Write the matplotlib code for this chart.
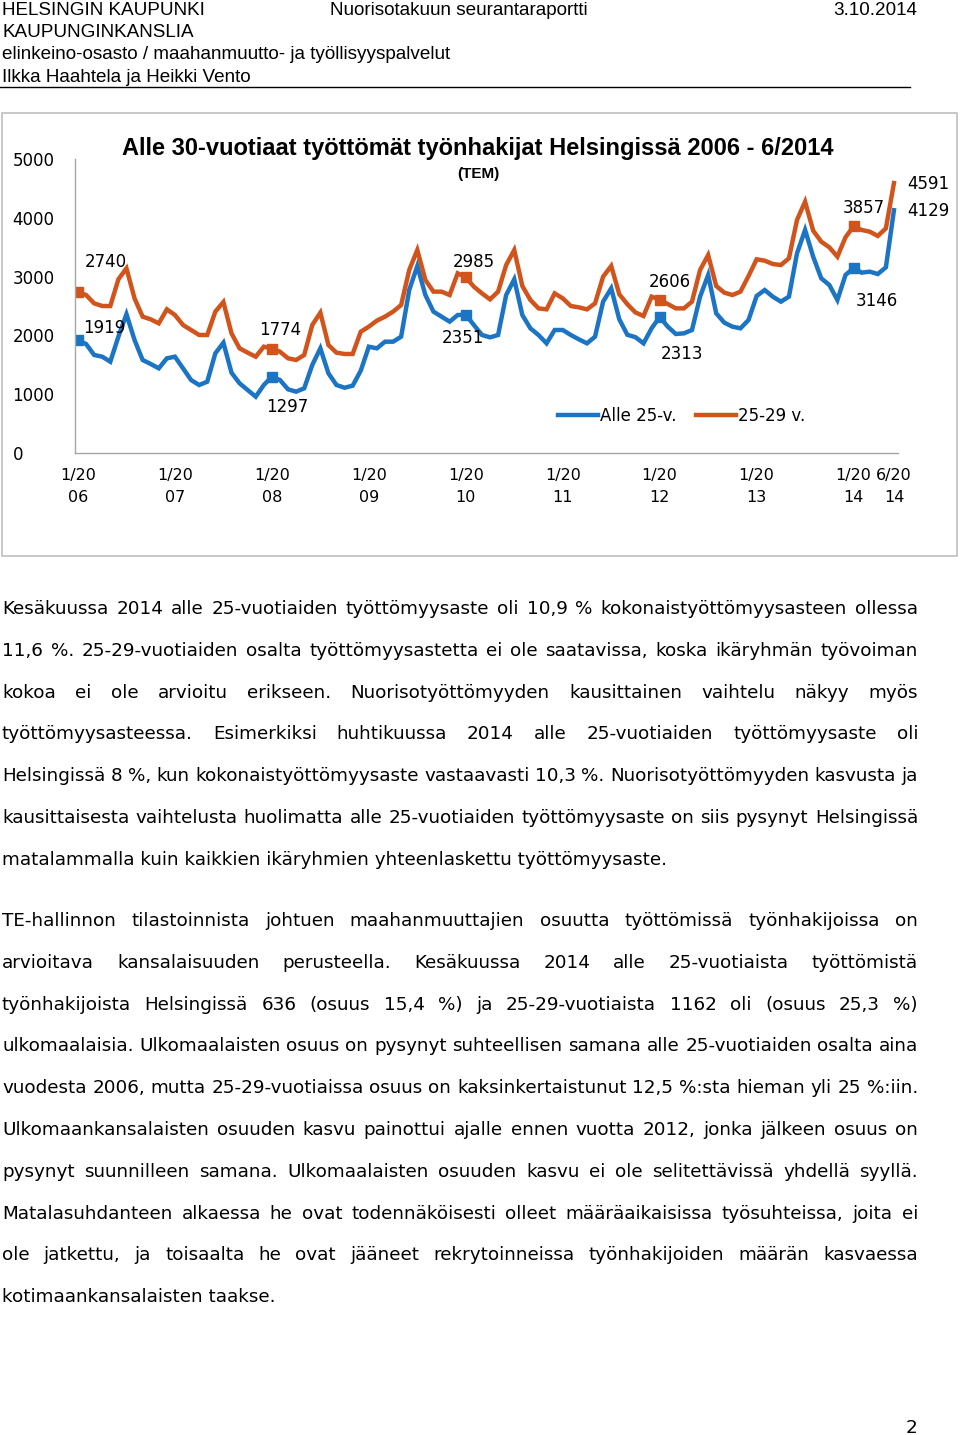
import matplotlib
matplotlib.use("Agg")
import matplotlib.pyplot as plt
from matplotlib.patches import Rectangle
from matplotlib.lines import Line2D

W, H = 960, 1435

# monthly data 1/2006 - 6/2014
alle25 = [1919, 1854, 1667, 1638, 1553, 1978, 2360, 1922, 1582, 1514, 1440, 1610,
          1638, 1440, 1241, 1156, 1213, 1695, 1876, 1366, 1185, 1071, 958, 1156,
          1297, 1241, 1083, 1043, 1100, 1497, 1780, 1355, 1156, 1110, 1145, 1400,
          1808, 1780, 1893, 1893, 1978, 2772, 3180, 2687, 2404, 2319, 2234, 2347,
          2351, 2177, 2007, 1967, 2007, 2687, 2954, 2347, 2120, 2007, 1865, 2092,
          2092, 2007, 1933, 1865, 1978, 2574, 2800, 2275, 2010, 1970, 1865, 2120,
          2313, 2149, 2024, 2035, 2092, 2659, 3027, 2375, 2217, 2149, 2120, 2262,
          2670, 2772, 2659, 2574, 2659, 3396, 3793, 3339, 2971, 2857, 2602, 3027,
          3146, 3067, 3084, 3044, 3158, 4129]
v25_29 = [2740, 2687, 2545, 2500, 2500, 2954, 3140, 2630, 2319, 2273, 2205, 2443,
          2347, 2177, 2092, 2007, 2007, 2404, 2568, 2035, 1780, 1706, 1638, 1808,
          1774, 1723, 1610, 1582, 1667, 2177, 2387, 1837, 1706, 1684, 1684, 2063,
          2149, 2251, 2319, 2404, 2517, 3112, 3452, 2942, 2744, 2744, 2687, 3056,
          2985, 2829, 2715, 2613, 2744, 3197, 3452, 2840, 2602, 2460, 2443, 2715,
          2630, 2500, 2477, 2443, 2545, 2999, 3180, 2700, 2530, 2390, 2330, 2659,
          2606, 2534, 2460, 2460, 2574, 3112, 3367, 2840, 2727, 2687, 2744, 3010,
          3294, 3271, 3214, 3197, 3311, 3963, 4274, 3781, 3594, 3498, 3339, 3668,
          3857, 3793, 3764, 3691, 3821, 4591]

tick_idx = [0, 12, 24, 36, 48, 60, 72, 84, 96, 101]
tick_labels = ["1/20\n06", "1/20\n07", "1/20\n08", "1/20\n09", "1/20\n10",
               "1/20\n11", "1/20\n12", "1/20\n13", "1/20\n14", "6/20\n14"]
marker_idx = [0, 24, 48, 72, 96]
label_idx = [0, 24, 48, 72, 96, 101]
series_names = ["Alle 25-v.", "25-29 v."]

title = "Alle 30-vuotiaat työttömät työnhakijat Helsingissä 2006 - 6/2014"
subtitle = "(TEM)"

para1 = [
    "Kesäkuussa 2014 alle 25-vuotiaiden työttömyysaste oli 10,9 % kokonaistyöttömyysasteen ollessa",
    "11,6 %. 25-29-vuotiaiden osalta työttömyysastetta ei ole saatavissa, koska ikäryhmän työvoiman",
    "kokoa ei ole arvioitu erikseen. Nuorisotyöttömyyden kausittainen vaihtelu näkyy myös",
    "työttömyysasteessa. Esimerkiksi huhtikuussa 2014 alle 25-vuotiaiden työttömyysaste oli",
    "Helsingissä 8 %, kun kokonaistyöttömyysaste vastaavasti 10,3 %. Nuorisotyöttömyyden kasvusta ja",
    "kausittaisesta vaihtelusta huolimatta alle 25-vuotiaiden työttömyysaste on siis pysynyt Helsingissä",
    "matalammalla kuin kaikkien ikäryhmien yhteenlaskettu työttömyysaste.",
]
para2 = [
    "TE-hallinnon tilastoinnista johtuen maahanmuuttajien osuutta työttömissä työnhakijoissa on",
    "arvioitava kansalaisuuden perusteella. Kesäkuussa 2014 alle 25-vuotiaista työttömistä",
    "työnhakijoista Helsingissä 636 (osuus 15,4 %) ja 25-29-vuotiaista 1162 oli (osuus 25,3 %)",
    "ulkomaalaisia. Ulkomaalaisten osuus on pysynyt suhteellisen samana alle 25-vuotiaiden osalta aina",
    "vuodesta 2006, mutta 25-29-vuotiaissa osuus on kaksinkertaistunut 12,5 %:sta hieman yli 25 %:iin.",
    "Ulkomaankansalaisten osuuden kasvu painottui ajalle ennen vuotta 2012, jonka jälkeen osuus on",
    "pysynyt suunnilleen samana. Ulkomaalaisten osuuden kasvu ei ole selitettävissä yhdellä syyllä.",
    "Matalasuhdanteen alkaessa he ovat todennäköisesti olleet määräaikaisissa työsuhteissa, joita ei",
    "ole jatkettu, ja toisaalta he ovat jääneet rekrytoinneissa työnhakijoiden määrän kasvaessa",
    "kotimaankansalaisten taakse.",
]

BLUE = "#1C74C4"
ORANGE = "#D2541D"


def fx(x):
    return x / W


def fy(y):
    return 1 - y / H


fig = plt.figure(figsize=(W / 100, H / 100), dpi=100)

############################## PAGE HEADER ##############################
hdr = dict(family="Liberation Sans", fontsize=13.6, va="baseline")
fig.text(fx(2), fy(15), "HELSINGIN KAUPUNKI", **hdr)
fig.text(fx(330), fy(15), "Nuorisotakuun seurantaraportti", **hdr)
fig.text(fx(917), fy(15), "3.10.2014", ha="right", **hdr)
fig.text(fx(2), fy(37), "KAUPUNGINKANSLIA", **hdr)
fig.text(fx(2), fy(59), "elinkeino-osasto / maahanmuutto- ja työllisyyspalvelut", **hdr)
fig.text(fx(2), fy(82), "Ilkka Haahtela ja Heikki Vento", **hdr)
fig.add_artist(Line2D([fx(0), fx(910)], [fy(86.5), fy(86.5)], color="black", lw=1.0,
                      transform=fig.transFigure))

############################## CHART ##############################
fig.add_artist(Rectangle((fx(2), fy(556)), fx(955), 443 / H, transform=fig.transFigure,
                         fill=False, edgecolor="#BFBFBF", lw=1.2))

ax = fig.add_axes([fx(75), fy(453), fx(823), 294 / H])
months = list(range(len(alle25)))
ax.plot(months, alle25, color=BLUE, lw=3.2, solid_joinstyle="miter", label=series_names[0])
ax.plot(months, v25_29, color=ORANGE, lw=3.2, solid_joinstyle="miter", label=series_names[1])
ax.plot(marker_idx, [alle25[i] for i in marker_idx], "s", color=BLUE, ms=7)
ax.plot(marker_idx, [v25_29[i] for i in marker_idx], "s", color=ORANGE, ms=7)

ax.set_xlim(-0.37, 101.5)
ax.set_ylim(0, 5000)
for s in ["top", "right"]:
    ax.spines[s].set_visible(False)
for s in ["left", "bottom"]:
    ax.spines[s].set_color("#A6A6A6")
    ax.spines[s].set_linewidth(1.0)

ax.set_yticks(range(0, 5001, 1000))
ax.tick_params(axis="y", length=0, pad=45, labelsize=12)
for lab in ax.get_yticklabels():
    lab.set_horizontalalignment("left")
ax.set_xticks(tick_idx)
ax.set_xticklabels(tick_labels, fontsize=11.5, linespacing=1.55)
ax.tick_params(axis="x", length=0, pad=11)

# data labels (offsets in points from the data point)
offsets_blue = [(19, 8.6), (10.8, -21.6), (-2.2, -16.6), (15.8, -26.6), (16.6, -23.8), (24.5, -0.7)]
offsets_orange = [(20.2, 21.6), (5.8, 13.7), (5.8, 11.5), (7.2, 13), (7.2, 13), (24.5, -0.7)]
for i, off in zip(label_idx, offsets_blue):
    ax.annotate(str(alle25[i]), (i, alle25[i]), xytext=off, textcoords="offset points",
                ha="center", va="center", fontsize=12, annotation_clip=False)
for i, off in zip(label_idx, offsets_orange):
    ax.annotate(str(v25_29[i]), (i, v25_29[i]), xytext=off, textcoords="offset points",
                ha="center", va="center", fontsize=12, annotation_clip=False)

ax.legend(loc="center", bbox_to_anchor=(0.737, 0.126), ncol=2, frameon=False,
          fontsize=12, handlelength=2.4, handletextpad=0.1, columnspacing=1.2)

fig.text(fx(478), fy(155), title, ha="center", va="baseline",
         family="Liberation Sans", fontweight="bold", fontsize=17)
fig.text(fx(478), fy(174), subtitle, ha="center", va="center",
         family="Liberation Sans", fontweight="bold", fontsize=11)

############################## BODY TEXT ##############################
renderer = fig.canvas.get_renderer()
LEFT, RIGHT = 2, 918
body = dict(family="DejaVu Sans", fontsize=13.2, va="baseline")


def put_line(text, y, justify):
    if not justify:
        fig.text(fx(LEFT), fy(y), text, **body)
        return
    words = text.split(" ")
    items = [fig.text(0, fy(y), w, **body) for w in words]
    widths = [t.get_window_extent(renderer).width for t in items]
    gap = (RIGHT - LEFT - sum(widths)) / (len(words) - 1)
    x = LEFT
    for t, w in zip(items, widths):
        t.set_x(fx(x))
        x += w + gap


for k, line in enumerate(para1):
    put_line(line, 614 + k * 41.8, k < len(para1) - 1)
for k, line in enumerate(para2):
    put_line(line, 926 + k * 41.8, k < len(para2) - 1)

fig.text(fx(917), fy(1433), "2", ha="right", **body)

fig.savefig("out.png", dpi=100)
